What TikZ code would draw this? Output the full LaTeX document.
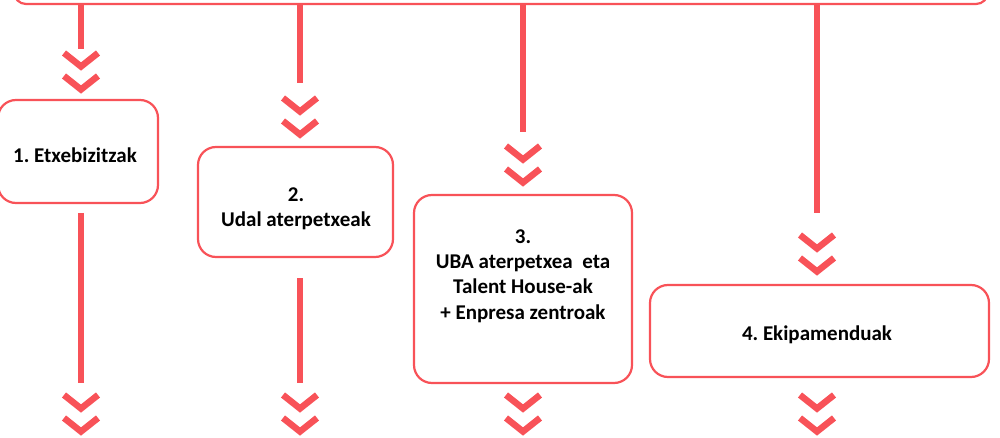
\documentclass[tikz,border=0pt]{standalone}
\usepackage{fontspec}
\setmainfont{Carlito}
\definecolor{accent}{RGB}{248,82,88}
\frenchspacing
\begin{document}
\begin{tikzpicture}[x=1pt,y=-1pt,
  box/.style={draw=accent, line width=2.2pt, rounded corners=18pt, fill=white, inner sep=0pt},
  link/.style={draw=accent, line width=6pt},
  chevline/.style={draw=accent, line width=6.5pt, line join=miter},
  lbl/.style={font=\bfseries\fontsize{21}{25.3}\selectfont, align=center, inner sep=0pt},
  chevrons/.pic={\draw[chevline] (-17,0) -- (0,13.5) -- (17,0); \draw[chevline] (-17,23) -- (0,36.5) -- (17,23);}
]
\useasboundingbox (0,0) rectangle (1000,438);
\clip (0,0) rectangle (1000,438);
% top box (mostly outside the picture)
\node[box, rounded corners=12pt, minimum width=974pt, minimum height=80pt] (top) at (501,-36) {};
% boxes
\node[box, minimum width=160pt, minimum height=103pt] (b1) at (78,151.5) {};
\node[box, minimum width=195pt, minimum height=110pt] (b2) at (295.5,202) {};
\node[box, minimum width=218pt, minimum height=188pt] (b3) at (523,289) {};
\node[box, minimum width=339pt, minimum height=92pt] (b4) at (819.5,331) {};
% labels
\node[lbl] (t1) at (75,155) {1. Etxebizitzak};
\node[lbl] (t2) at (296,208.5) {2.\\Udal aterpetxeak};
\node[lbl] (t3) at (523,276) {3.\\UBA aterpetxea\ \ eta\\Talent House-ak\\+ Enpresa zentroak};
\node[lbl] (t4) at (817,335) {4. Ekipamenduak};
% connector ends
\coordinate (e1) at (81,49);
\coordinate (e2) at (300,83);
\coordinate (e3) at (523,132);
\coordinate (e4) at (817,213);
\coordinate (s1) at (81,213);
\coordinate (f1) at (81,383);
\coordinate (s2) at (300,278);
\coordinate (f2) at (300,383);
\draw[link] (top.south -| e1) -- (e1);
\draw[link] (top.south -| e2) -- (e2);
\draw[link] (top.south -| e3) -- (e3);
\draw[link] (top.south -| e4) -- (e4);
\draw[link] (s1) -- (f1);
\draw[link] (s2) -- (f2);
% chevrons
\pic at (81,53) {chevrons};
\pic at (300,98) {chevrons};
\pic at (523,146) {chevrons};
\pic at (817,235) {chevrons};
\pic at (81,395) {chevrons};
\pic at (300,395) {chevrons};
\pic at (523,395) {chevrons};
\pic at (817,395) {chevrons};
\end{tikzpicture}
\end{document}
